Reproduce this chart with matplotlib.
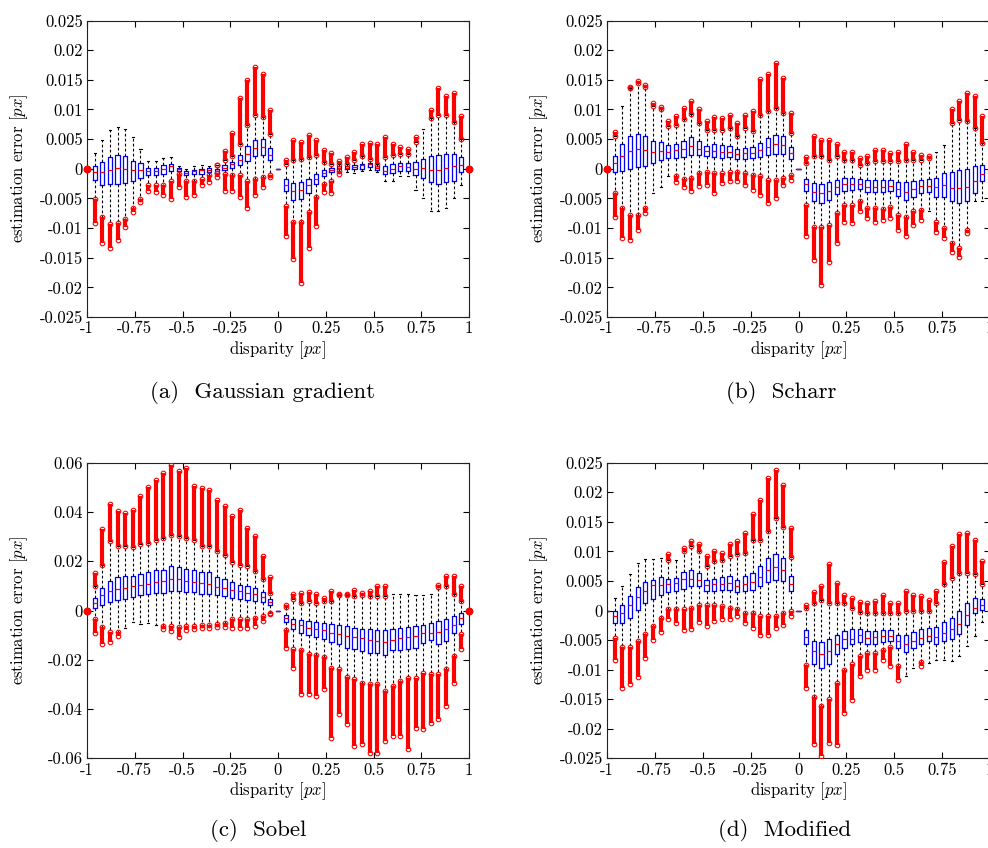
import numpy as np
import matplotlib
matplotlib.use('Agg')
import matplotlib.pyplot as plt

plt.rcParams['font.family'] = 'serif'
plt.rcParams['font.serif'] = ['cmr10', 'DejaVu Serif']
plt.rcParams['mathtext.fontset'] = 'cm'
plt.rcParams['axes.unicode_minus'] = False

nan = np.nan
# 51 disparities, -1 .. 1 step 0.04
disparity = np.round(np.linspace(-1, 1, 51), 2)

# all error values below are in units of 1e-3 px
# (a) Gaussian gradient
a_q1 = [0, -1.98, -2.7, -2.5, -2.5, -2.4, -2.0, -1.5, -1.13, -1.13, -0.96, -0.45, -0.45, -1.13, -0.96, -0.85, -0.62, -0.73, -0.28, 0.17, 0.57, 1.3, 2.1, 2.26, 1.5, 0,
        -3.7, -5.25, -5.1, -4.1, -2.5, -1.24, -0.62, -0.06, -0.11, -0.11, 0, 0.28, -0.28, -0.96, -0.73, -0.4, -0.4, -1.13, -1.5, -2.26, -2.5, -2.26, -2.15, -0.62, 0]
a_med = [0, -0.62, -0.62, -0.17, 0.17, 0, -0.28, -0.28, -0.45, -0.4, -0.11, 0.4, -0.11, -0.73, -0.4, -0.28, -0.17, -0.34, 0.11, 0.73, 1.5, 2.5, 3.5, 3.6, 2.4, 0,
         -2.66, -3.7, -3.6, -2.7, -1.7, -0.73, -0.28, 0.17, 0.11, 0.28, 0.57, 0.73, 0.11, -0.4, 0, 0.4, 0.34, 0, 0.11, -0.17, -0.28, 0.06, 0.45, 0.57, 0]
a_q3 = [0, 0.4, 1.13, 2.0, 2.4, 2.1, 1.3, 1.0, 0.11, 0.11, 0.57, 0.85, 0.11, -0.4, -0.17, 0, 0.06, -0.06, 0.57, 1.13, 2.4, 3.8, 4.8, 5.1, 3.5, 0,
        -1.8, -2.4, -2.26, -1.7, -0.85, -0.28, 0.11, 0.4, 0.4, 0.68, 0.85, 1.0, 0.4, 0.4, 0.85, 0.96, 0.9, 1.13, 1.7, 2.2, 2.26, 2.5, 2.5, 1.9, 0]
a_wlo = [0, -5.1, -8.2, -9.4, -9.2, -8.5, -6.6, -5.1, -2.8, -2.7, -2.8, -2.0, -0.85, -2.0, -2.0, -1.7, -1.13, -0.73, -0.96, -1.13, -1.13, -2.0, -1.7, -1.4, -1.1, 0,
         -6.2, -9.0, -9.0, -7.3, -4.8, -2.5, -2.0, -0.4, -0.57, -0.73, -0.4, -0.28, -0.57, -2.0, -2.0, -1.24, -1.24, -3.5, -5.0, -7.1, -7.2, -6.6, -4.9, -2.7, 0]
a_whi = [0, 2.7, 4.8, 6.5, 7.1, 6.7, 5.4, 3.4, 1.3, 1.24, 1.8, 2.0, 0.45, 0, 0.45, 0.57, 0.45, 0.57, 1.4, 2.1, 4.2, 7.3, 9.0, 8.8, 5.9, 0,
         0.85, 1.4, 1.7, 2.0, 2.26, 1.13, 0.85, 0.73, 0.85, 1.5, 2.1, 1.7, 0.85, 2.0, 2.4, 2.5, 2.5, 4.5, 6.7, 8.5, 9.0, 9.0, 7.9, 5.1, 0]
a_flo = [0, -9.2, -12.6, -13.3, -12.0, -9.9, -7.3, -5.65, -3.8, -4.0, -4.5, -5.1, -3.1, -4.7, -4.5, -2.8, -2.26, -1.4, -3.7, -3.7, -4.8, -6.6, -4.5, -3.1, -1.4, nan,
         -11.3, -15.3, -19.2, -13.3, -9.6, -4.0, -4.1, -0.96, nan, nan, nan, nan, nan, nan, nan, nan, nan, nan, nan, nan, nan, nan, nan, nan, 0]
a_fhi = [0, nan, nan, nan, nan, nan, nan, nan, nan, nan, nan, nan, nan, nan, nan, nan, nan, 0.68, 3.0, 6.0, 11.9, 15.0, 17.1, 16.0, 9.9, nan,
         1.5, 4.8, 4.5, 5.65, 4.8, 3.2, 2.66, 1.3, 2.0, 2.8, 4.1, 4.35, 4.1, 5.4, 4.2, 3.6, 3.4, 5.4, nan, 9.9, 13.6, 12.3, 12.7, 8.9, 0]

# (b) Scharr
b_q1 = [0, -0.56, -0.45, -0.06, 0.28, 0.4, 0.96, 1.4, 1.75, 1.86, 1.9, 2.3, 2.3, 2.1, 2.0, 1.86, 2.0, 1.6, 1.6, 1.75, 2.0, 2.4, 2.5, 2.5, 1.7, 0,
        -3.7, -5.5, -5.8, -5.25, -4.2, -3.7, -3.55, -3.4, -4.0, -4.0, -4.0, -3.8, -4.6, -5.25, -4.7, -4.1, -4.0, -4.7, -4.7, -5.5, -5.8, -5.5, -4.1, -2.1, 0]
b_med = [0, 1.0, 2.2, 3.0, 3.4, 3.2, 2.9, 3.0, 2.9, 3.1, 3.4, 3.9, 3.4, 3.0, 3.0, 2.9, 2.9, 2.5, 2.6, 2.65, 3.2, 3.7, 4.1, 4.0, 2.65, 0,
         -2.6, -3.9, -4.1, -3.7, -3.0, -2.6, -2.5, -2.5, -3.0, -3.0, -3.0, -2.9, -3.4, -4.0, -3.4, -2.9, -2.9, -3.0, -2.8, -3.2, -3.3, -3.0, -2.0, -0.85, 0]
b_q3 = [0, 2.2, 4.1, 5.5, 5.9, 5.5, 4.7, 4.5, 4.0, 4.2, 4.7, 5.4, 4.6, 3.9, 4.2, 4.0, 3.9, 3.3, 3.5, 3.7, 4.3, 5.2, 5.75, 5.6, 3.7, 0,
        -1.7, -2.4, -2.5, -2.26, -1.9, -1.6, -1.6, -1.7, -1.9, -1.9, -1.9, -1.9, -2.3, -2.3, -2.0, -1.9, -1.7, -1.6, -0.73, -0.56, -0.28, 0, 0.5, 0.56, 0]
b_wlo = [0, -4.1, -6.7, -7.8, -7.8, -6.7, -4.1, -3.0, -1.2, -1.3, -1.75, -1.6, -0.73, -0.62, -0.73, -0.73, -0.62, -0.62, -0.73, -1.0, -1.3, -1.9, -1.9, -1.6, -1.0, 0,
         -6.1, -9.8, -9.8, -9.5, -7.5, -6.1, -6.1, -5.5, -6.7, -6.7, -6.8, -6.5, -7.8, -8.1, -7.2, -6.9, -7.2, -8.9, -10.0, -12.6, -13.4, -10.3, -5.5, -5.5, 0]
b_whi = [0, 5.5, 10.5, 13.6, 14.5, 13.8, 10.5, 10.0, 7.2, 7.4, 8.4, 9.3, 7.7, 6.6, 6.6, 6.6, 6.9, 5.5, 6.9, 6.3, 9.1, 9.7, 10.3, 9.4, 6.0, 0,
         0.96, 2.1, 2.1, 1.5, 2.1, 1.5, 1.5, 0.68, 0.96, 1.24, 1.24, 1.24, 1.24, 1.5, 1.5, 1.5, 1.8, 2.9, 4.0, 7.7, 8.3, 8.0, 6.9, 4.3, 0]
b_flo = [0, -8.2, -11.7, -12.0, -10.3, -7.5, nan, nan, nan, -2.3, -3.0, -3.7, -2.9, -2.7, -4.1, -2.4, -2.1, -2.1, -2.7, -3.6, -4.4, -5.8, -5.0, -2.7, -1.9, nan,
         -11.4, -15.4, -19.6, -15.7, -12.6, -8.9, -9.1, -7.2, -8.3, -8.9, -8.6, -8.3, -10.3, -11.4, -9.5, -8.6, nan, -10.6, -11.7, -14.0, -14.8, -10.8, nan, nan, nan]
b_fhi = [0, 6.2, nan, 13.8, 14.8, 14.2, 11.1, 10.4, 8.0, 8.9, 10.3, 11.4, 10.0, 8.0, 8.7, 8.6, 9.1, 7.7, 9.1, 9.7, 15.1, 15.9, 17.8, 15.3, 9.4, nan,
         2.0, 5.5, 4.9, 4.9, 4.1, 2.8, 2.8, 1.8, 2.2, 3.1, 3.1, 2.65, 2.9, 4.2, 2.9, 2.4, 2.1, nan, nan, 10.0, 11.4, 12.8, 12.2, 8.9, nan]

# (c) Sobel
c_q1 = [0, 1.1, 2.4, 3.4, 4.2, 4.5, 5.5, 6.1, 6.9, 7.2, 7.2, 7.8, 7.8, 7.4, 7.4, 6.9, 6.5, 6.1, 5.8, 5.1, 4.7, 4.2, 3.8, 3.5, 2.2, 0,
        -4.7, -7.7, -9.3, -10.1, -10.7, -11.5, -12.8, -13.4, -15.1, -15.8, -16.5, -17.2, -17.2, -18.2, -16.1, -16.1, -15.5, -15.1, -13.1, -11.8, -13.4, -12.4, -9.3, -5.3, 0]
c_med = [0, 3.1, 6.1, 7.8, 8.9, 9.3, 9.9, 10.4, 10.9, 11.5, 11.8, 12.8, 12.6, 11.9, 11.6, 11.2, 10.8, 9.7, 9.2, 8.4, 7.8, 7.3, 6.6, 5.5, 3.4, 0,
         -3.2, -5.3, -5.7, -7.0, -7.4, -8.0, -9.3, -9.6, -10.4, -10.8, -11.3, -11.8, -12.2, -12.7, -11.8, -11.1, -10.7, -10.4, -9.3, -9.1, -8.8, -7.7, -5.7, -3.0, 0]
c_q3 = [0, 5.1, 9.2, 11.9, 13.5, 14.1, 14.2, 14.9, 15.7, 16.5, 16.6, 18.2, 17.6, 16.9, 16.6, 15.8, 15.5, 13.6, 12.6, 11.5, 10.5, 9.9, 9.1, 7.4, 4.7, 0,
        -2.0, -3.4, -3.9, -4.3, -4.7, -5.0, -5.4, -5.8, -6.3, -7.0, -7.4, -7.7, -8.0, -8.0, -7.4, -7.0, -6.6, -6.3, -5.7, -5.0, -4.3, -3.4, -2.3, -0.95, 0]
c_wlo = [0, -3.6, -6.6, -8.8, -8.8, -7.0, -4.7, -5.3, -5.0, -5.7, -6.3, -6.3, -6.5, -6.3, -6.3, -5.7, -5.7, -5.3, -5.0, -3.6, -3.6, -3.6, -3.0, -2.3, -0.95, 0,
         -8.0, -15.8, -16.1, -17.8, -18.2, -18.8, -23.2, -23.6, -26.9, -28.0, -29.3, -30.0, -30.0, -32.7, -30.7, -28.6, -27.3, -27.3, -25.3, -25.9, -25.9, -23.9, -18.5, -9.7, 0]
c_whi = [0, 9.9, 18.6, 28.1, 26.1, 26.1, 25.8, 26.8, 27.2, 28.8, 29.5, 30.8, 30.1, 29.5, 28.8, 26.3, 26.1, 24.0, 22.7, 19.6, 18.6, 18.0, 15.9, 12.8, 7.2, 0,
         1.35, 4.5, 3.1, 3.8, 3.1, 3.8, 3.8, 6.1, 6.1, 5.8, 6.1, 5.8, 5.8, 5.8, 6.5, 6.5, 6.5, 6.1, 6.1, 6.5, 9.6, 9.9, 6.9, 3.8, 0]
c_flo = [0, -9.1, -13.4, -12.8, -10.4, nan, nan, nan, nan, nan, -7.7, -8.4, -10.8, -8.0, -7.7, -7.0, -7.0, -6.6, -6.6, -7.0, -7.0, -7.0, -6.1, -4.3, -1.6, nan,
         -15.1, -23.2, -34.0, -34.0, -34.7, -32.0, -51.6, -42.1, -46.2, -55.0, -54.3, -57.7, -57.7, -53.0, -50.9, -50.9, -56.3, -47.6, -48.2, -45.5, -44.2, -38.8, -29.3, -15.5, 0]
c_fhi = [0, 15.3, 33.1, 43.4, 40.3, 39.6, 40.9, 46.6, 50.0, 52.8, 55.8, 59.2, 56.5, 57.8, 50.4, 49.7, 49.0, 45.0, 42.6, 38.2, 40.9, 33.5, 30.1, 22.0, 13.6, nan,
         2.4, 6.8, 7.2, 7.4, 6.9, 5.1, 7.8, 6.5, 6.5, 8.2, 7.2, 7.8, 9.9, 9.9, nan, nan, nan, nan, nan, nan, 10.5, 14.2, 13.9, 9.9, 0]

# (d) Modified
d_q1 = [0, -2.1, -2.1, -1.24, 0.06, 1.2, 2.0, 2.7, 3.2, 3.3, 3.7, 4.1, 4.1, 3.3, 3.3, 3.4, 3.4, 3.2, 3.3, 3.55, 4.1, 4.8, 5.1, 5.0, 3.3, 0,
        -5.75, -9.0, -9.7, -9.0, -7.4, -6.3, -5.75, -5.3, -5.75, -5.6, -5.4, -5.2, -6.3, -7.0, -6.3, -5.6, -5.2, -5.6, -5.2, -4.9, -3.9, -2.4, -0.4, 0.06, 0]
d_med = [0, -0.85, -0.4, 0.9, 2.3, 3.3, 4.3, 4.3, 4.5, 4.6, 5.3, 5.4, 5.2, 4.3, 4.4, 4.5, 4.6, 4.2, 4.5, 4.9, 5.75, 6.8, 7.4, 6.9, 4.5, 0,
         -4.45, -6.9, -7.3, -6.8, -5.6, -4.8, -4.8, -4.1, -4.6, -4.45, -4.3, -4.3, -5.2, -5.6, -5.2, -4.6, -4.3, -4.45, -3.8, -3.2, -2.3, -0.8, 0.45, 0.9, 0]
d_q3 = [0, -0.11, 0.85, 2.4, 3.9, 4.8, 5.2, 5.6, 5.4, 5.5, 6.5, 6.9, 6.4, 5.2, 5.4, 5.7, 5.8, 5.2, 5.8, 6.4, 7.6, 8.9, 9.6, 8.9, 5.8, 0,
        -3.3, -5.2, -5.3, -4.8, -4.1, -3.5, -3.2, -3.2, -3.4, -3.4, -3.3, -3.3, -4.1, -4.2, -3.7, -3.2, -2.9, -2.8, -2.0, -1.24, -0.11, 1.3, 2.1, 2.0, 0]
d_wlo = [0, -4.6, -6.1, -6.1, -5.2, -3.9, -2.65, -1.24, 0.17, 0.17, 0.17, 0.45, 1.0, 1.0, 0.85, 0.73, 0.45, 0.28, -0.4, -0.4, -0.85, -0.96, -0.85, -0.4, -0.11, 0,
         -9.3, -14.6, -16.2, -14.9, -12.2, -10.0, -9.0, -7.7, -7.2, -7.2, -6.6, -6.1, -9.4, -11.1, -9.7, -8.7, -8.9, -8.4, -8.4, -8.6, -7.7, -6.0, -4.3, -2.0, 0]
d_whi = [0, 2.1, 4.2, 6.2, 8.1, 8.7, 8.7, 8.8, 8.6, 8.6, 10.0, 10.9, 10.0, 7.5, 8.3, 8.5, 9.2, 9.5, 9.75, 12.0, 12.0, 13.4, 15.7, 14.1, 9.1, 0,
         0.45, 1.3, 1.86, 1.3, 1.3, 1.3, 0.45, -0.28, -0.4, -0.4, -0.4, -0.4, -0.4, -0.11, -0.11, -0.11, -0.11, 1.3, 4.4, 5.5, 6.4, 6.4, 6.1, 4.4, 0]
d_flo = [nan, -8.3, -13.1, -12.5, -11.2, -8.0, -5.0, -3.7, -1.4, -2.1, -3.3, -3.2, -2.0, -2.65, -1.8, -1.5, -1.5, -0.85, -2.1, -2.9, -4.2, -4.1, -2.9, -2.4, -0.96, nan,
         -13.1, -22.5, -24.6, -22.4, -22.7, -17.3, -15.1, -11.1, -10.0, -10.0, -8.3, -9.4, -11.8, nan, nan, -9.4, nan, nan, nan, nan, nan, nan, nan, nan, nan]
d_fhi = [nan, nan, nan, nan, nan, nan, nan, nan, 9.5, nan, 10.6, 11.7, 11.2, 9.3, 10.0, 9.75, 11.2, 11.7, 13.1, 16.4, 18.7, 22.4, 23.7, 21.3, 14.0, nan,
         1.0, 3.1, 4.2, 7.8, 4.6, 2.7, 2.1, 1.4, 1.3, 1.6, 2.7, 1.3, 1.3, 3.3, 2.7, 2.4, 1.86, 3.3, 8.2, 10.9, 12.9, 13.1, 12.0, 8.3, nan]

xticks = [-1, -0.75, -0.5, -0.25, 0, 0.25, 0.5, 0.75, 1]
xticklabels = ['-1', '-0.75', '-0.5', '-0.25', '0', '0.25', '0.5', '0.75', '1']
yticks_small = [-0.025, -0.02, -0.015, -0.01, -0.005, 0, 0.005, 0.01, 0.015, 0.02, 0.025]
yticklabels_small = ['-0.025', '-0.02', '-0.015', '-0.01', '-0.005', '0', '0.005', '0.01', '0.015', '0.02', '0.025']
yticks_big = [-0.06, -0.04, -0.02, 0, 0.02, 0.04, 0.06]
yticklabels_big = ['-0.06', '-0.04', '-0.02', '0', '0.02', '0.04', '0.06']

FS = 12


def panel(ax, q1, med, q3, wlo, whi, flo, fhi, yticks, yticklabels):
    s = 1e-3
    stats = []
    for k in range(len(disparity)):
        stats.append(dict(q1=q1[k] * s, med=med[k] * s, q3=q3[k] * s,
                          whislo=wlo[k] * s, whishi=whi[k] * s, fliers=[]))
    r = ax.bxp(stats, positions=disparity, widths=0.022, capwidths=0.011,
               showfliers=False, manage_ticks=False,
               boxprops=dict(color='blue', lw=0.9),
               medianprops=dict(color='red', lw=0.9),
               whiskerprops=dict(color='black', lw=0.8, ls=(0, (2.5, 2))),
               capprops=dict(color='black', lw=0.8))
    # collapsed boxes: blue box and red median on top of each other -> purple dash
    for k in range(len(disparity)):
        if q1[k] == q3[k]:
            r['boxes'][k].set_color('#7a1a8a')
            r['medians'][k].set_color('#7a1a8a')
    # outliers: dense columns of red circles beyond the whiskers
    pairs = list(zip(disparity, wlo, flo)) + list(zip(disparity, whi, fhi))
    for x, a, b in pairs:
        if np.isnan(b):
            continue
        if a == b:
            ax.plot(x, b * s, 'o', color='red', ms=4.5, clip_on=False, zorder=4)
        else:
            ax.vlines(x, a * s, b * s, color='red', lw=3.0, zorder=3)
            ax.plot([x, x], [a * s, b * s], 'o', mfc='none', mec='red',
                    ms=3.3, mew=0.8, zorder=3)
    ax.set_xlim(-1, 1)
    ax.set_ylim(yticks[0], yticks[-1])
    ax.set_xticks(xticks)
    ax.set_xticklabels(xticklabels)
    ax.set_yticks(yticks)
    ax.set_yticklabels(yticklabels)
    ax.tick_params(direction='in', top=True, right=True, length=4, width=0.8,
                   labelsize=FS, pad=3)
    for sp in ax.spines.values():
        sp.set_linewidth(0.8)
        sp.set_color('#222222')
    ax.set_xlabel('disparity [$px$]', fontsize=FS)
    ax.set_ylabel('estimation error [$px$]', fontsize=FS)
    ax.xaxis.set_label_coords(0.5, -0.075)
    ax.yaxis.set_label_coords(-0.15, 0.5)


W, H = 988, 848
fig = plt.figure(figsize=(W / 100, H / 100), dpi=100)

ax_a = fig.add_axes([87 / W, 1 - 317 / H, 382 / W, 296.5 / H])
ax_b = fig.add_axes([607 / W, 1 - 317 / H, 383 / W, 296.5 / H])
ax_c = fig.add_axes([87 / W, 1 - 758.3 / H, 382 / W, 295.6 / H])
ax_d = fig.add_axes([607 / W, 1 - 758.3 / H, 383 / W, 295.6 / H])

panel(ax_a, a_q1, a_med, a_q3, a_wlo, a_whi, a_flo, a_fhi, yticks_small, yticklabels_small)
panel(ax_b, b_q1, b_med, b_q3, b_wlo, b_whi, b_flo, b_fhi, yticks_small, yticklabels_small)
panel(ax_c, c_q1, c_med, c_q3, c_wlo, c_whi, c_flo, c_fhi, yticks_big, yticklabels_big)
panel(ax_d, d_q1, d_med, d_q3, d_wlo, d_whi, d_flo, d_fhi, yticks_small, yticklabels_small)

CFS = 16.5
fig.text(262 / W, 1 - 392 / H, '(a)  Gaussian gradient', ha='center', va='center', fontsize=CFS)
fig.text(781 / W, 1 - 392 / H, '(b)  Scharr', ha='center', va='center', fontsize=CFS)
fig.text(258 / W, 1 - 831 / H, '(c)  Sobel', ha='center', va='center', fontsize=CFS)
fig.text(785 / W, 1 - 831 / H, '(d)  Modified', ha='center', va='center', fontsize=CFS)

fig.savefig('out.png', dpi=100)
